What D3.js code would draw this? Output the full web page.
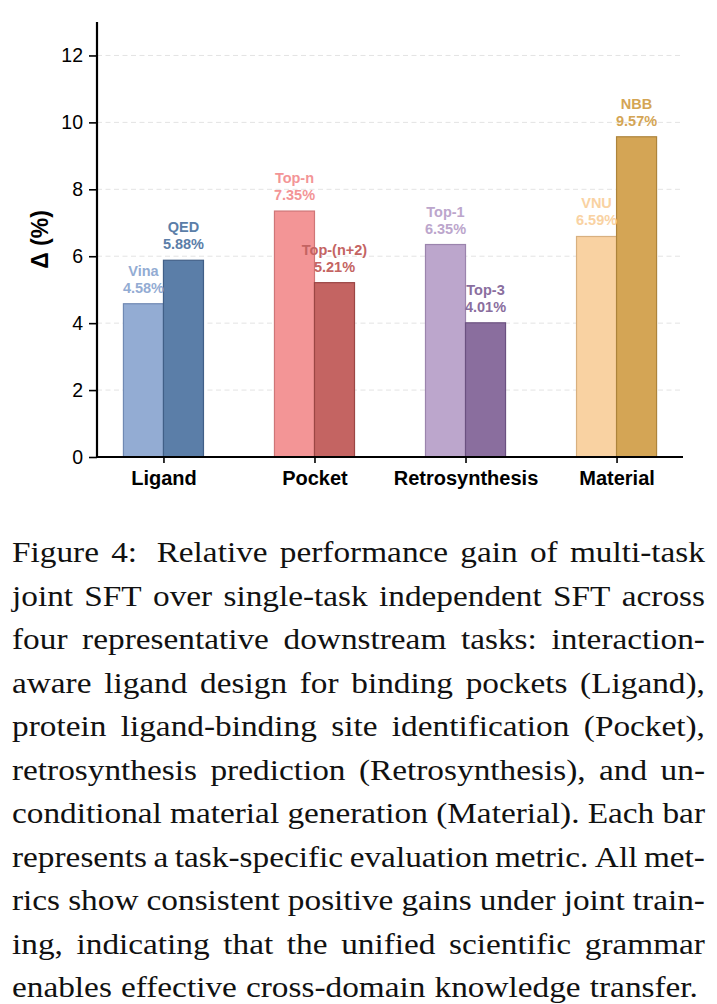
<!DOCTYPE html>
<html>
<head>
<meta charset="utf-8">
<script src="https://cdn.jsdelivr.net/npm/d3@7"></script>
<style>
  html, body { margin: 0; padding: 0; background: #ffffff; }
  svg { display: block; }
</style>
</head>
<body>
<script>
// ---------------- data ----------------
const categories = ["Ligand", "Pocket", "Retrosynthesis", "Material"];
const metricsA = ["Vina", "Top-n", "Top-1", "VNU"];
const valuesA = [4.58, 7.35, 6.35, 6.59];
const metricsB = ["QED", "Top-(n+2)", "Top-3", "NBB"];
const valuesB = [5.88, 5.21, 4.01, 9.57];
const yTicks = [0, 2, 4, 6, 8, 10, 12];
const yLabel = "Δ (%)";
const colorsA = ["#93acd3", "#f39596", "#bca6cc", "#f9d2a2"];
const edgesA = ["#7089b3", "#cf7677", "#9b84ad", "#d8b07f"];
const colorsB = ["#5b7ea8", "#c46462", "#8a6e9e", "#d4a555"];
const edgesB = ["#415f87", "#9b4644", "#6b5180", "#ad843c"];
const captionLines = [
  "Figure 4:  Relative performance gain of multi-task",
  "joint SFT over single-task independent SFT across",
  "four representative downstream tasks: interaction-",
  "aware ligand design for binding pockets (Ligand),",
  "protein ligand-binding site identification (Pocket),",
  "retrosynthesis prediction (Retrosynthesis), and un-",
  "conditional material generation (Material). Each bar",
  "represents a task-specific evaluation metric. All met-",
  "rics show consistent positive gains under joint train-",
  "ing, indicating that the unified scientific grammar",
  "enables effective cross-domain knowledge transfer."
];

// ---------------- layout ----------------
const W = 717, H = 1004;
const plot = { left: 97, right: 683, top: 22, bottom: 457 };
const barW = 0.265;

const svg = d3.select("body").append("svg")
  .attr("width", W).attr("height", H);

const x = d3.scaleLinear().domain([-0.44, 3.44]).range([plot.left, plot.right]);
const y = d3.scaleLinear().domain([0, 13]).range([plot.bottom, plot.top]);

// gridlines
svg.append("g").selectAll("line")
  .data(yTicks.filter(t => t > 0))
  .join("line")
  .attr("x1", plot.left).attr("x2", plot.right)
  .attr("y1", d => y(d)).attr("y2", d => y(d))
  .attr("stroke", "#e3e3e3").attr("stroke-width", 1)
  .attr("stroke-dasharray", "5,3.5");

// bars
const idx = d3.range(categories.length);
const bars = svg.append("g");
bars.selectAll("rect.a").data(idx).join("rect")
  .attr("class", "a")
  .attr("x", i => x(i - barW)).attr("width", i => x(i) - x(i - barW))
  .attr("y", i => y(valuesA[i])).attr("height", i => y(0) - y(valuesA[i]))
  .attr("fill", i => colorsA[i]).attr("stroke", i => edgesA[i]).attr("stroke-width", 1.2);
bars.selectAll("rect.b").data(idx).join("rect")
  .attr("class", "b")
  .attr("x", i => x(i)).attr("width", i => x(i + barW) - x(i))
  .attr("y", i => y(valuesB[i])).attr("height", i => y(0) - y(valuesB[i]))
  .attr("fill", i => colorsB[i]).attr("stroke", i => edgesB[i]).attr("stroke-width", 1.2);

// bar labels
const labFont = "Liberation Sans";
function addLabel(cx, v, name, color) {
  const g = svg.append("g").attr("font-family", labFont).attr("font-weight", "bold")
    .attr("font-size", 14.5).attr("fill", color).attr("text-anchor", "middle");
  g.append("text").attr("x", cx).attr("y", y(v) - 28).text(name);
  g.append("text").attr("x", cx).attr("y", y(v) - 11).text(v.toFixed(2) + "%");
}
idx.forEach(i => {
  addLabel(x(i - barW / 2), valuesA[i], metricsA[i], colorsA[i]);
  addLabel(x(i + barW / 2), valuesB[i], metricsB[i], colorsB[i]);
});

// y axis
const yAxis = d3.axisLeft(y).tickValues(yTicks).tickSize(8).tickPadding(6).tickFormat(d3.format("d"));
const gy = svg.append("g").attr("transform", `translate(${plot.left},0)`).call(yAxis);
gy.select(".domain").remove();
gy.selectAll(".tick line").attr("stroke", "#000").attr("stroke-width", 1.6);
gy.selectAll(".tick text").attr("font-family", labFont).attr("font-size", 19.5).attr("fill", "#000");
svg.append("line").attr("x1", plot.left).attr("x2", plot.left)
  .attr("y1", plot.top).attr("y2", plot.bottom + 1)
  .attr("stroke", "#000").attr("stroke-width", 2.2);

// x axis
const xAxis = d3.axisBottom(x).tickValues(idx).tickSize(6).tickPadding(8).tickFormat(i => categories[i]);
const gx = svg.append("g").attr("transform", `translate(0,${plot.bottom})`).call(xAxis);
gx.select(".domain").remove();
gx.selectAll(".tick line").attr("stroke", "#000").attr("stroke-width", 1.6);
gx.selectAll(".tick text").attr("font-family", labFont).attr("font-weight", "bold")
  .attr("font-size", 20).attr("fill", "#000").attr("dy", "0.71em");
svg.append("line").attr("x1", plot.left - 1).attr("x2", plot.right)
  .attr("y1", plot.bottom).attr("y2", plot.bottom)
  .attr("stroke", "#000").attr("stroke-width", 2.2);

// y label
svg.append("text")
  .attr("transform", `translate(48,${(plot.top + plot.bottom) / 2}) rotate(-90)`)
  .attr("text-anchor", "middle")
  .attr("font-family", labFont).attr("font-weight", "bold").attr("font-size", 23)
  .attr("fill", "#000").text(yLabel);

// caption: glyphs widened slightly (Palatino-like), justified by word placement
const cap = svg.append("g").attr("font-family", "Liberation Serif")
  .attr("font-size", 29).attr("fill", "#111");
const capLeft = 12, capRight = 705, capTop = 562, capStep = 43.5;
const lineData = captionLines.map((line, i) => {
  const words = line.split(/ +/);
  const texts = words.map(w => cap.append("text").text(w));
  const widths = texts.map(t => t.node().getComputedTextLength());
  const last = i === captionLines.length - 1;
  const right = last ? 698 : capRight;
  const weights = words.slice(0, -1).map((w, k) => (i === 0 && k === 1) ? 1.6 : 1);
  return { texts, widths, right, weights, i };
});
const minGap = 6.5; // tightest word gap (px)
const ratios = lineData.map(d => (d.right - capLeft - minGap * d3.sum(d.weights)) / d3.sum(d.widths));
const s = d3.min(ratios);
lineData.forEach(d => {
  const total = d3.sum(d.widths) * s;
  const gapUnit = (d.right - capLeft - total) / d3.sum(d.weights);
  let xpos = capLeft;
  const yy = capTop + d.i * capStep;
  d.texts.forEach((t, k) => {
    t.attr("transform", `translate(${xpos},${yy}) scale(${s},1)`);
    xpos += d.widths[k] * s + (k < d.weights.length ? gapUnit * d.weights[k] : 0);
  });
});
</script>
</body>
</html>
